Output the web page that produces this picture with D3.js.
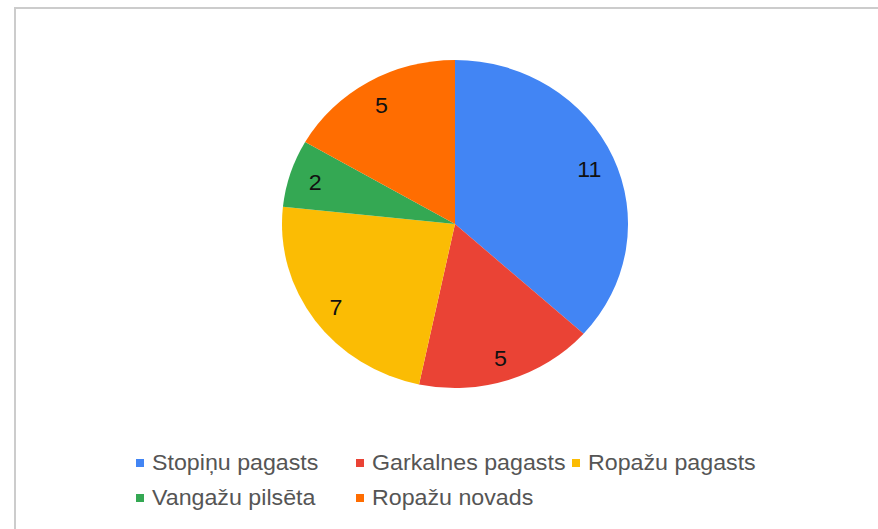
<!DOCTYPE html>
<html>
<head>
<meta charset="utf-8">
<script src="https://cdn.jsdelivr.net/npm/d3@7"></script>
<style>
  body { margin: 0; background: #fff; }
  svg { display: block; font-family: "Liberation Sans", Arial, sans-serif; }
</style>
</head>
<body>
<div id="chart"></div>
<script>
// data
var categories = ["Stopiņu pagasts", "Garkalnes pagasts", "Ropažu pagasts", "Vangažu pilsēta", "Ropažu novads"];
var values = [11, 5, 7, 2, 5];
var colors = ["#4285f4", "#ea4335", "#fbbc04", "#34a853", "#ff6d01"];

var width = 878, height = 529;
var cx = 455, cy = 224, r = 164,
    sx = 1.055; // the picture is slightly stretched sideways

const svg = d3.select("#chart").append("svg")
    .attr("width", width)
    .attr("height", height);

svg.append("rect")
    .attr("width", width).attr("height", height)
    .attr("fill", "#fff");

// frame (only top and left edges are visible)
svg.append("rect")
    .attr("x", 15).attr("y", 8)
    .attr("width", width).attr("height", height)
    .attr("fill", "none")
    .attr("stroke", "#cccccc")
    .attr("stroke-width", 2);

var pie = d3.pie().sort(null).value(d => d.v);
var arcs = pie(values.map((v, i) => ({ v: v, i: i })));

var arc = d3.arc().innerRadius(0).outerRadius(r);
var labelArc = d3.arc().innerRadius(r * 0.85).outerRadius(r * 0.85);

const g = svg.append("g")
    .attr("transform", "translate(" + cx + "," + cy + ") scale(" + sx + ",1)");

g.selectAll("path")
    .data(arcs)
    .enter().append("path")
    .attr("d", arc)
    .attr("fill", d => colors[d.data.i]);

g.selectAll("text")
    .data(arcs)
    .enter().append("text")
    .attr("transform", d => "translate(" + labelArc.centroid(d) + ")")
    .attr("dy", 2)
    .attr("text-anchor", "middle")
    .attr("dominant-baseline", "central")
    .attr("font-size", 22)
    .attr("fill", "#111")
    .text(d => d.data.v);

// legend, two rows like the original
var legendPos = [[136, 470], [356, 470], [572, 470], [136, 505], [356, 505]];

const legend = svg.append("g")
    .attr("transform", "scale(" + sx + ",1)");

let items = legend.selectAll("g.item")
    .data(categories)
    .enter().append("g")
    .attr("class", "item")
    .attr("transform", (d, i) => "translate(" + legendPos[i][0] / sx + "," + legendPos[i][1] + ")");

items.append("rect")
    .attr("x", 0).attr("y", -11)
    .attr("width", 8 / sx).attr("height", 8)
    .attr("fill", (d, i) => colors[i]);

items.append("text")
    .attr("x", 16 / sx)
    .attr("y", 0)
    .attr("font-size", 22)
    .attr("fill", "#555")
    .text(d => d);
</script>
</body>
</html>
